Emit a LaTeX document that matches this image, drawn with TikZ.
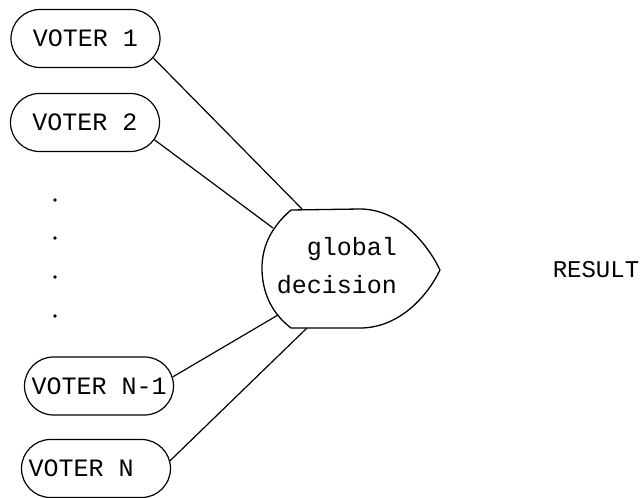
\documentclass[tikz,border=0pt]{standalone}
\usepackage{fontspec}
\setmonofont{Liberation Mono}
\usetikzlibrary{shapes.misc}
\begin{document}
\begin{tikzpicture}[x=1pt,y=-1pt,
  voter/.style={rounded rectangle, draw, line width=1.2pt, minimum width=89pt,
    minimum height=58pt, inner xsep=-30pt, inner ysep=0pt,
    font=\ttfamily\fontsize{25}{30}\selectfont},
  wire/.style={line width=1.2pt},
  gate/.style={draw, line width=1.3pt},
  dot/.style={circle, fill, inner sep=0pt, minimum size=3.6pt},
  lbl/.style={font=\ttfamily\fontsize{25}{30}\selectfont, inner sep=0pt}]
\useasboundingbox (0,0) rectangle (643,498);

% voters
\node[voter] (v1)  at (85.5,38.5) {\makebox[135pt][c]{VOTER 1}};
\node[voter] (v2)  at (85,122.5)  {\makebox[135pt][c]{VOTER 2}};
\node[voter] (vn1) at (99,386)    {\makebox[135pt][l]{VOTER N-1}};
\node[voter] (vn)  at (96,468.5)  {\makebox[135pt][l]{VOTER N}};

% dots
\node[dot] (d1) at (55,200) {};
\node[dot] (d2) at (55,238) {};
\node[dot] (d3) at (55,277) {};
\node[dot] (d4) at (55,316) {};

% gate
\path[gate] (291,210) .. controls (270,228) and (262,248) .. (262,268)
  .. controls (262,290) and (270,312) .. (291,328) -- (360,328)
  .. controls (400,328) and (428,295) .. (440,270)
  .. controls (428,245) and (400,209) .. (360,209) -- cycle;
\node[lbl, align=left] (gt) at (337,266) {\hspace*{30pt}global\\[8pt]decision};

\coordinate (g1) at (302,209);
\coordinate (g2) at (273,228);
\coordinate (g3) at (278,315);
\coordinate (g4) at (307,328);

\draw[wire] (v1.-16) -- (g1);
\draw[wire] (v2.-14) -- (g2);
\draw[wire] (vn1.7) -- (g3);
\draw[wire] (vn.6.5) -- (g4);

\node[font=\ttfamily\fontsize{24}{29}\selectfont, inner sep=0pt] (res) at (596,270) {RESULT};
\end{tikzpicture}
\end{document}
